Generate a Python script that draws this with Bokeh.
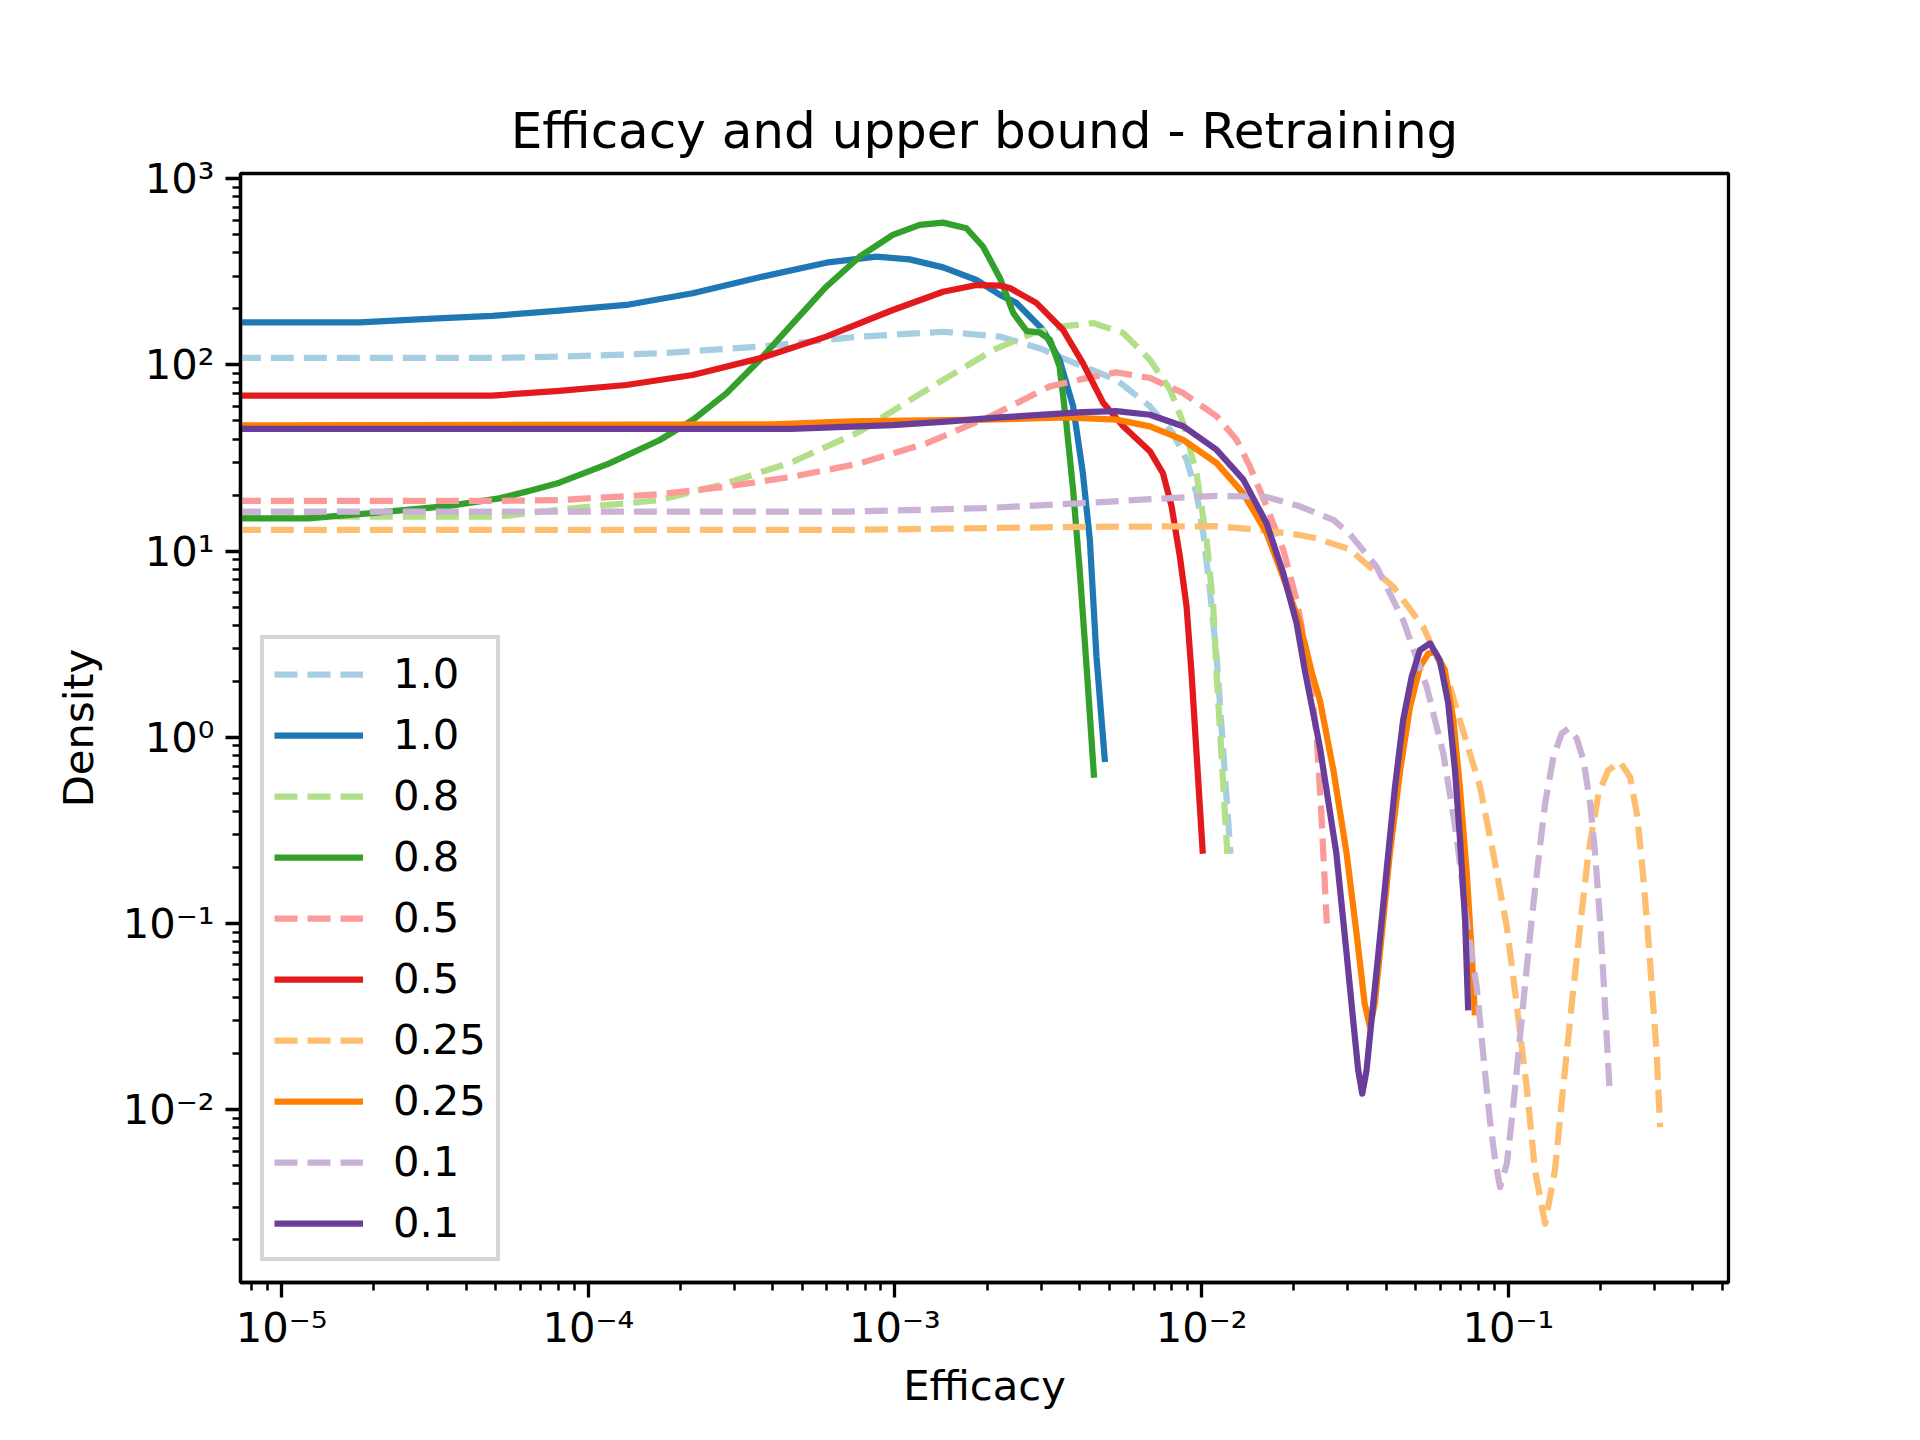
from bokeh.plotting import figure
from bokeh.models import (Range1d, FixedTicker, CustomJSTickFormatter, Legend, LegendItem)
from bokeh.embed import file_html
from bokeh.resources import INLINE

# ---------------- data ----------------
# 1.0 upper bound (dashed)
eff_bound_1_0 = [7.2e-6, 5.07e-5, 8.05e-5, 1.706e-4, 3.62e-4, 7.67e-4, 1.436e-3, 2.20e-3, 2.96e-3,
                 3.62e-3, 5.27e-3, 6.78e-3, 8.05e-3, 8.93e-3, 9.62e-3, 1.012e-2, 1.064e-2,
                 1.119e-2, 1.242e-2]
dens_bound_1_0 = [109, 109, 110.7, 115.3, 125.3, 141.9, 150.7, 141.9, 123.0,
                  106.7, 83.2, 60.0, 43.1, 31.0, 20.5, 12.5, 6.19,
                  2.72, 0.237]
# 1.0 efficacy (solid)
eff_1_0 = [7.2e-6, 1.80e-5, 3.11e-5, 4.86e-5, 8.05e-5, 1.330e-4, 2.19e-4, 3.62e-4, 5.97e-4, 8.69e-4,
           1.117e-3, 1.436e-3, 1.845e-3, 2.20e-3, 2.489e-3, 3.04e-3, 3.44e-3, 3.81e-3, 4.10e-3,
           4.32e-3, 4.54e-3, 4.84e-3]
dens_1_0 = [169.4, 169.4, 177.0, 183.2, 195.9, 209.9, 242.7, 295.8, 354.0, 381.1,
            368.9, 334.2, 285.8, 237.7, 215.3, 154.5, 106.7, 60.0, 26.2,
            11.5, 2.72, 0.738]
# 0.8 upper bound (dashed)
eff_bound_0_8 = [7.2e-6, 5.07e-5, 8.05e-5, 1.706e-4, 2.82e-4, 4.65e-4, 7.67e-4, 1.265e-3, 2.09e-3,
                 2.82e-3, 3.53e-3, 4.43e-3, 5.55e-3, 6.78e-3, 7.89e-3, 8.71e-3, 9.62e-3,
                 1.038e-2, 1.091e-2, 1.119e-2, 1.213e-2]
dens_bound_0_8 = [15.3, 15.3, 16.7, 18.8, 23.1, 30.2, 43.8, 73.3, 120.2,
                  148.3, 161.1, 167.9, 148.3, 106.7, 73.6, 48.8, 26.2,
                  11.5, 5.05, 2.21, 0.237]
# 0.8 efficacy (solid)
eff_0_8 = [7.2e-6, 1.22e-5, 1.963e-5, 3.52e-5, 5.13e-5, 6.59e-5, 8.05e-5, 1.172e-4, 1.706e-4, 2.19e-4,
           2.82e-4, 3.62e-4, 4.65e-4, 5.97e-4, 7.67e-4, 9.84e-4, 1.205e-3, 1.436e-3, 1.71e-3,
           1.936e-3, 2.20e-3, 2.43e-3, 2.69e-3, 2.96e-3, 3.20e-3, 3.44e-3, 3.62e-3, 3.81e-3,
           4.01e-3, 4.23e-3, 4.46e-3]
dens_0_8 = [15.0, 15.0, 16.0, 17.5, 19.2, 21.3, 23.3, 29.6, 39.4, 50.6,
            70.3, 106.2, 167.5, 263.0, 381.1, 498.9, 564.9, 580.8, 542.0,
            432.5, 292.4, 190.1, 151.7, 149.6, 136.8, 98.4, 48.8, 21.3,
            7.62, 2.21, 0.607]
# 0.5 upper bound (dashed)
eff_bound_0_5 = [7.2e-6, 4.86e-5, 8.05e-5, 1.706e-4, 2.82e-4, 4.65e-4, 7.67e-4, 1.265e-3, 2.09e-3,
                 3.20e-3, 4.10e-3, 5.27e-3, 6.78e-3, 8.71e-3, 1.119e-2, 1.300e-2, 1.436e-2,
                 1.629e-2, 1.845e-2, 2.04e-2, 2.20e-2, 2.37e-2, 2.46e-2, 2.56e-2]
dens_bound_0_5 = [18.6, 18.6, 18.8, 20.2, 22.2, 25.1, 29.6, 37.9, 53.8,
                  76.7, 84.1, 91.2, 85.1, 70.6, 53.0, 39.6, 28.5,
                  17.4, 10.2, 5.47, 2.82, 1.05, 0.373, 0.100]
# 0.5 efficacy (solid)
eff_0_5 = [7.2e-6, 4.86e-5, 8.05e-5, 1.330e-4, 2.19e-4, 3.62e-4, 5.97e-4, 9.84e-4, 1.436e-3, 1.845e-3,
           2.20e-3, 2.37e-3, 2.89e-3, 3.53e-3, 4.10e-3, 4.78e-3, 5.55e-3, 6.78e-3, 7.48e-3,
           7.98e-3, 8.49e-3, 8.93e-3, 9.27e-3, 1.009e-2]
dens_0_5 = [68.4, 68.4, 72.6, 78.0, 88.3, 108.4, 141.9, 197.2, 247.2, 268.5,
            266.7, 258.8, 215.3, 154.5, 102.3, 62.4, 46.8, 34.4, 26.2,
            17.4, 9.38, 5.05, 2.21, 0.237]
# 0.25 upper bound (dashed)
eff_bound_0_25 = [7.2e-6, 7.11e-4, 4.10e-3, 1.119e-2, 1.549e-2, 2.09e-2, 2.37e-2, 3.05e-2, 3.28e-2,
                  4.22e-2, 5.28e-2, 6.46e-2, 6.95e-2, 8.09e-2, 8.93e-2, 9.89e-2, 0.1064, 0.1148,
                  0.1222, 0.1318, 0.1419, 0.1510, 0.1611, 0.1714, 0.1824, 0.1968, 0.2118,
                  0.2312, 0.2495, 0.2624, 0.2723, 0.2831, 0.2938, 0.3048, 0.3126]
dens_bound_0_25 = [13.0, 13.0, 13.5, 13.6, 13.0, 12.2, 11.7, 10.2, 9.14,
                   6.43, 3.92, 1.87, 1.236, 0.541, 0.238, 0.0957, 0.0372, 0.0132,
                   0.00472, 0.00244, 0.00472, 0.0132, 0.0372, 0.0957, 0.238, 0.499, 0.665,
                   0.738, 0.612, 0.390, 0.219, 0.104, 0.0456, 0.0200, 0.00805]
# 0.25 efficacy (solid)
eff_0_25 = [7.2e-6, 4.02e-4, 7.11e-4, 1.936e-3, 3.62e-3, 5.27e-3, 6.78e-3, 8.71e-3, 1.119e-2,
            1.365e-2, 1.629e-2, 1.845e-2, 2.09e-2, 2.29e-2, 2.43e-2, 2.69e-2, 2.97e-2, 3.21e-2,
            3.40e-2, 3.54e-2, 3.67e-2, 3.86e-2, 4.11e-2, 4.44e-2, 4.78e-2, 5.15e-2, 5.48e-2,
            5.77e-2, 6.21e-2, 6.62e-2, 6.95e-2, 7.31e-2, 7.60e-2, 7.78e-2]
dens_0_25 = [47.3, 48.0, 49.8, 50.8, 52.2, 50.8, 46.8, 39.6, 29.7,
             20.5, 12.5, 7.24, 4.10, 2.21, 1.581, 0.665, 0.238, 0.0847,
             0.0372, 0.0278, 0.0372, 0.0847, 0.238, 0.665, 1.455, 2.388, 2.818,
             2.877, 2.296, 1.236, 0.541, 0.193, 0.0689, 0.0321]
# 0.1 upper bound (dashed)
eff_bound_0_1 = [7.2e-6, 7.11e-4, 1.936e-3, 4.10e-3, 6.78e-3, 1.119e-2, 1.629e-2, 2.09e-2, 2.69e-2,
                 3.05e-2, 3.72e-2, 4.54e-2, 5.42e-2, 6.14e-2, 6.79e-2, 7.31e-2, 7.89e-2, 8.28e-2,
                 8.71e-2, 9.06e-2, 9.40e-2, 9.89e-2, 0.1026, 0.1079, 0.1132, 0.1191, 0.1253,
                 0.1318, 0.1403, 0.1493, 0.1570, 0.1671, 0.1758, 0.1849, 0.1919, 0.1991,
                 0.2051, 0.2138]
dens_bound_0_1 = [16.3, 16.3, 17.0, 18.1, 19.0, 19.8, 19.5, 17.4, 14.7,
                  12.3, 8.24, 4.26, 1.866, 0.818, 0.292, 0.104, 0.0456, 0.0200,
                  0.00875, 0.00535, 0.00384, 0.00513, 0.00875, 0.0200, 0.0456, 0.104, 0.219,
                  0.441, 0.785, 1.047, 1.114, 0.986, 0.754, 0.441, 0.238, 0.104,
                  0.0456, 0.0130]
# 0.1 efficacy (solid)
eff_0_1 = [7.2e-6, 4.58e-4, 9.84e-4, 1.507e-3, 2.20e-3, 4.10e-3, 5.27e-3, 6.78e-3, 8.71e-3, 1.119e-2,
           1.368e-2, 1.629e-2, 1.845e-2, 2.04e-2, 2.17e-2, 2.43e-2, 2.75e-2, 2.97e-2, 3.12e-2,
           3.24e-2, 3.34e-2, 3.45e-2, 3.58e-2, 3.77e-2, 4.01e-2, 4.27e-2, 4.54e-2, 4.84e-2,
           5.15e-2, 5.56e-2, 5.98e-2, 6.37e-2, 6.70e-2, 6.95e-2, 7.23e-2, 7.40e-2]
dens_0_1 = [45.4, 45.4, 47.5, 49.8, 52.2, 55.8, 56.4, 54.0, 46.8, 35.0,
            24.2, 14.1, 7.62, 4.10, 2.29, 0.887, 0.238, 0.0689, 0.0302,
            0.0163, 0.0122, 0.0163, 0.0302, 0.0689, 0.193, 0.541, 1.236, 2.113,
            2.938, 3.192, 2.594, 1.521, 0.665, 0.292, 0.104, 0.0342]

series_labels = ["1.0", "1.0", "0.8", "0.8", "0.5", "0.5", "0.25", "0.25", "0.1", "0.1"]
series_colors = ["#a6cee3", "#1f78b4", "#b2df8a", "#33a02c", "#fb9a99",
                 "#e31a1c", "#fdbf6f", "#ff7f00", "#cab2d6", "#6a3d9a"]
series_dashed = [True, False] * 5
series_x = [eff_bound_1_0, eff_1_0, eff_bound_0_8, eff_0_8, eff_bound_0_5, eff_0_5,
            eff_bound_0_25, eff_0_25, eff_bound_0_1, eff_0_1]
series_y = [dens_bound_1_0, dens_1_0, dens_bound_0_8, dens_0_8, dens_bound_0_5, dens_0_5,
            dens_bound_0_25, dens_0_25, dens_bound_0_1, dens_0_1]

x_major_ticks = [1e-5, 1e-4, 1e-3, 1e-2, 1e-1]
x_tick_labels = ["10\u207b\u2075", "10\u207b\u2074", "10\u207b\u00b3", "10\u207b\u00b2", "10\u207b\u00b9"]
y_major_ticks = [1e-2, 1e-1, 1.0, 10.0, 100.0, 1000.0]
y_tick_labels = ["10\u207b\u00b2", "10\u207b\u00b9", "10\u2070", "10\u00b9", "10\u00b2", "10\u00b3"]

title_text = "Efficacy and upper bound - Retraining"
x_label = "Efficacy"
y_label = "Density"

# ---------------- figure ----------------
FONT = "DejaVu Sans"
p = figure(
    x_axis_type="log", y_axis_type="log",
    x_range=Range1d(10 ** -5.134, 10 ** -0.282),
    y_range=Range1d(10 ** -2.928, 10 ** 3.028),
    frame_width=1488, frame_height=1109,
    min_border_left=240, min_border_right=180, min_border_top=173, min_border_bottom=146,
    output_backend="svg", toolbar_location=None, title=title_text,
)
p.background_fill_color = "white"
p.border_fill_color = "white"
p.outline_line_color = "black"
p.outline_line_width = 3.3
p.xgrid.visible = False
p.ygrid.visible = False

p.title.text_font = FONT
p.title.text_font_size = "50px"
p.title.text_font_style = "normal"
p.title.text_color = "black"
p.title.align = "center"
p.title.standoff = 27

fmt_code = """
let best = 0, bd = Infinity;
for (let i = 0; i < major.length; i++) {
  const d = Math.abs(Math.log10(tick) - Math.log10(major[i]));
  if (d < bd) { bd = d; best = i; }
}
return names[best];
"""
x_minor = [m * 10.0 ** e for e in range(-6, 0) for m in range(2, 10)]
y_minor = [m * 10.0 ** e for e in range(-3, 3) for m in range(2, 10)]
p.xaxis.ticker = FixedTicker(ticks=x_major_ticks, minor_ticks=x_minor)
p.yaxis.ticker = FixedTicker(ticks=y_major_ticks, minor_ticks=y_minor)
p.xaxis.formatter = CustomJSTickFormatter(args=dict(major=x_major_ticks, names=x_tick_labels), code=fmt_code)
p.yaxis.formatter = CustomJSTickFormatter(args=dict(major=y_major_ticks, names=y_tick_labels), code=fmt_code)

for ax in (p.xaxis, p.yaxis):
    ax.axis_line_width = 3.3
    ax.axis_line_color = "black"
    ax.major_tick_in = 0
    ax.major_tick_out = 15
    ax.minor_tick_in = 0
    ax.minor_tick_out = 8
    ax.major_tick_line_width = 3.3
    ax.minor_tick_line_width = 2.5
    ax.major_tick_line_color = "black"
    ax.minor_tick_line_color = "black"
    ax.major_label_text_font = FONT
    ax.major_label_text_font_size = "41.7px"
    ax.major_label_text_color = "black"
    ax.axis_label_text_font = FONT
    ax.axis_label_text_font_size = "41.7px"
    ax.axis_label_text_font_style = "normal"
    ax.axis_label_text_color = "black"
p.xaxis.axis_label = x_label
p.yaxis.axis_label = y_label
p.xaxis.major_label_standoff = 5
p.yaxis.major_label_standoff = 11
p.xaxis.axis_label_standoff = 6
p.yaxis.axis_label_standoff = 17

items = []
for xs, ys, col, dashed, lab in zip(series_x, series_y, series_colors, series_dashed, series_labels):
    r = p.line(xs, ys, line_color=col, line_width=6.25, line_join="round",
               line_dash="23 10" if dashed else "solid")
    items.append(LegendItem(label=lab, renderers=[r]))

legend = Legend(items=items, location=(20, 21))
legend.margin = 0
legend.padding = 10
legend.spacing = 12
legend.glyph_width = 89
legend.glyph_height = 40
legend.label_height = 40
legend.label_standoff = 30
legend.label_text_font = FONT
legend.label_text_font_size = "41.7px"
legend.label_text_color = "black"
legend.border_line_color = "#cccccc"
legend.border_line_width = 4
legend.border_line_alpha = 0.8
legend.background_fill_color = "white"
legend.background_fill_alpha = 0.8
p.add_layout(legend, "center")

open("out.html", "w").write(file_html(p, INLINE))
